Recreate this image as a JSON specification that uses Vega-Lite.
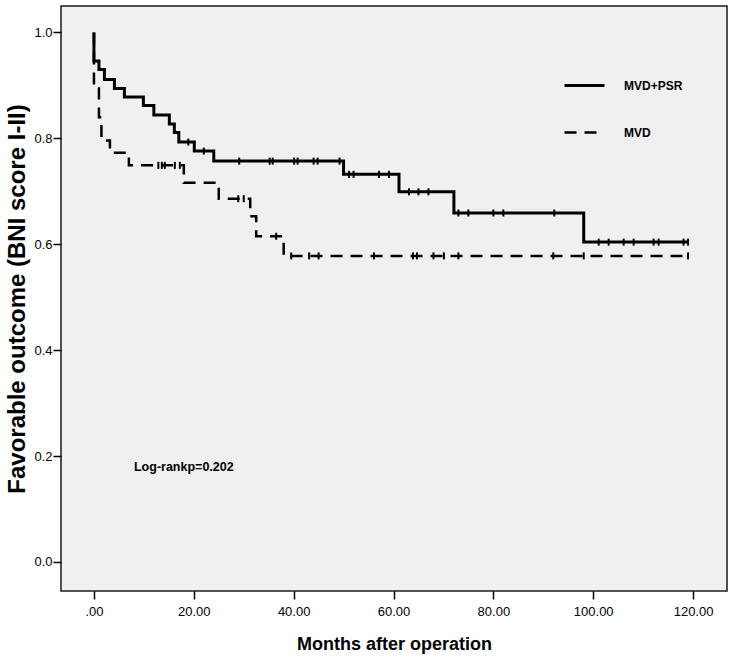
{
  "$schema": "https://vega.github.io/schema/vega-lite/v6.json",
  "width": 666,
  "height": 585,
  "autosize": {"type": "none"},
  "padding": {"left": 61, "top": 6, "right": 8, "bottom": 70},
  "background": "white",
  "config": {
    "view": {"fill": "#f0f0f0", "stroke": "#1a1a1a", "strokeWidth": 1.5},
    "font": "Liberation Sans",
    "axis": {"grid": false, "domain": false, "tickColor": "black", "tickWidth": 1.5, "tickSize": 8, "labelColor": "black", "titleColor": "black", "labelFont": "Liberation Sans", "titleFont": "Liberation Sans", "titleFontWeight": "bold"}
  },
  "datasets": {
    "curves": [
      {"group": "MVD+PSR", "t": 0, "s": 1.0},
      {"group": "MVD+PSR", "t": 0, "s": 0.946},
      {"group": "MVD+PSR", "t": 1.0, "s": 0.930},
      {"group": "MVD+PSR", "t": 2.1, "s": 0.911},
      {"group": "MVD+PSR", "t": 4.1, "s": 0.894},
      {"group": "MVD+PSR", "t": 6.1, "s": 0.878},
      {"group": "MVD+PSR", "t": 9.9, "s": 0.862},
      {"group": "MVD+PSR", "t": 12.0, "s": 0.844},
      {"group": "MVD+PSR", "t": 15.1, "s": 0.827},
      {"group": "MVD+PSR", "t": 16.1, "s": 0.811},
      {"group": "MVD+PSR", "t": 17.0, "s": 0.793},
      {"group": "MVD+PSR", "t": 20.1, "s": 0.776},
      {"group": "MVD+PSR", "t": 24.0, "s": 0.757},
      {"group": "MVD+PSR", "t": 50.0, "s": 0.732},
      {"group": "MVD+PSR", "t": 61.1, "s": 0.699},
      {"group": "MVD+PSR", "t": 72.1, "s": 0.659},
      {"group": "MVD+PSR", "t": 98.1, "s": 0.604},
      {"group": "MVD+PSR", "t": 119.0, "s": 0.604},
      {"group": "MVD", "t": 0, "s": 1.0},
      {"group": "MVD", "t": 0, "s": 0.894},
      {"group": "MVD", "t": 1.0, "s": 0.84},
      {"group": "MVD", "t": 1.5, "s": 0.796},
      {"group": "MVD", "t": 3.2, "s": 0.773},
      {"group": "MVD", "t": 7.0, "s": 0.749},
      {"group": "MVD", "t": 18.0, "s": 0.716},
      {"group": "MVD", "t": 25.0, "s": 0.686},
      {"group": "MVD", "t": 31.3, "s": 0.653},
      {"group": "MVD", "t": 32.5, "s": 0.615},
      {"group": "MVD", "t": 38.0, "s": 0.578},
      {"group": "MVD", "t": 119.0, "s": 0.578}
    ],
    "censors": [
      {"group": "MVD+PSR", "t": 18.9, "s": 0.793},
      {"group": "MVD+PSR", "t": 22.0, "s": 0.776},
      {"group": "MVD+PSR", "t": 29.1, "s": 0.757},
      {"group": "MVD+PSR", "t": 35.2, "s": 0.757},
      {"group": "MVD+PSR", "t": 35.8, "s": 0.757},
      {"group": "MVD+PSR", "t": 40.1, "s": 0.757},
      {"group": "MVD+PSR", "t": 40.8, "s": 0.757},
      {"group": "MVD+PSR", "t": 44.0, "s": 0.757},
      {"group": "MVD+PSR", "t": 44.8, "s": 0.757},
      {"group": "MVD+PSR", "t": 49.2, "s": 0.757},
      {"group": "MVD+PSR", "t": 51.1, "s": 0.732},
      {"group": "MVD+PSR", "t": 52.0, "s": 0.732},
      {"group": "MVD+PSR", "t": 57.1, "s": 0.732},
      {"group": "MVD+PSR", "t": 59.1, "s": 0.732},
      {"group": "MVD+PSR", "t": 63.1, "s": 0.699},
      {"group": "MVD+PSR", "t": 65.0, "s": 0.699},
      {"group": "MVD+PSR", "t": 67.0, "s": 0.699},
      {"group": "MVD+PSR", "t": 73.0, "s": 0.659},
      {"group": "MVD+PSR", "t": 75.0, "s": 0.659},
      {"group": "MVD+PSR", "t": 80.0, "s": 0.659},
      {"group": "MVD+PSR", "t": 82.0, "s": 0.659},
      {"group": "MVD+PSR", "t": 92.2, "s": 0.659},
      {"group": "MVD+PSR", "t": 101.1, "s": 0.604},
      {"group": "MVD+PSR", "t": 103.1, "s": 0.604},
      {"group": "MVD+PSR", "t": 106.1, "s": 0.604},
      {"group": "MVD+PSR", "t": 108.1, "s": 0.604},
      {"group": "MVD+PSR", "t": 112.1, "s": 0.604},
      {"group": "MVD+PSR", "t": 113.1, "s": 0.604},
      {"group": "MVD+PSR", "t": 118.1, "s": 0.604},
      {"group": "MVD+PSR", "t": 119.0, "s": 0.604},
      {"group": "MVD", "t": 12.9, "s": 0.749},
      {"group": "MVD", "t": 13.6, "s": 0.749},
      {"group": "MVD", "t": 14.2, "s": 0.749},
      {"group": "MVD", "t": 16.2, "s": 0.749},
      {"group": "MVD", "t": 17.2, "s": 0.749},
      {"group": "MVD", "t": 28.9, "s": 0.686},
      {"group": "MVD", "t": 30.0, "s": 0.686},
      {"group": "MVD", "t": 36.5, "s": 0.615},
      {"group": "MVD", "t": 39.5, "s": 0.578},
      {"group": "MVD", "t": 43.1, "s": 0.578},
      {"group": "MVD", "t": 45.0, "s": 0.578},
      {"group": "MVD", "t": 56.1, "s": 0.578},
      {"group": "MVD", "t": 63.9, "s": 0.578},
      {"group": "MVD", "t": 64.7, "s": 0.578},
      {"group": "MVD", "t": 68.0, "s": 0.578},
      {"group": "MVD", "t": 70.1, "s": 0.578},
      {"group": "MVD", "t": 73.0, "s": 0.578},
      {"group": "MVD", "t": 92.0, "s": 0.578},
      {"group": "MVD", "t": 98.1, "s": 0.578},
      {"group": "MVD", "t": 119.0, "s": 0.578}
    ],
    "notes": [
      {"t": 18.0, "s": 0.18, "note": "Log-rankp=0.202"}
    ]
  },
  "encoding": {
    "x": {
      "field": "t", "type": "quantitative",
      "scale": {"domain": [-6.6, 126.8], "nice": false, "zero": false},
      "axis": {
        "values": [0, 20, 40, 60, 80, 100, 120],
        "labelExpr": "datum.value == 0 ? '.00' : format(datum.value, '.2f')",
        "labelFontSize": 13, "labelPadding": 6,
        "title": "Months after operation",
        "titleFontSize": 18, "titlePadding": 17
      }
    },
    "y": {
      "field": "s", "type": "quantitative",
      "scale": {"domain": [-0.055, 1.05], "nice": false, "zero": false},
      "axis": {
        "values": [0, 0.2, 0.4, 0.6, 0.8, 1.0],
        "format": ".1f",
        "labelFontSize": 13, "labelPadding": 1,
        "title": "Favorable outcome (BNI score I-II)", "titleFontSize": 24, "titlePadding": 4
      }
    }
  },
  "layer": [
    {
      "data": {"name": "curves"},
      "mark": {"type": "line", "interpolate": "step-after", "color": "black", "strokeCap": "butt"},
      "encoding": {
        "strokeDash": {
          "field": "group", "type": "nominal",
          "scale": {"domain": ["MVD+PSR", "MVD"], "range": [[1, 0], [12, 8]]},
          "legend": {
            "orient": "none", "legendX": 502, "legendY": 58, "title": null,
            "symbolType": "stroke", "symbolSize": 1600, "symbolStrokeWidth": 3.5, "symbolStrokeColor": "black",
            "labelFontSize": 12, "labelFontWeight": "bold", "labelColor": "black", "labelOffset": 18,
            "rowPadding": 19
          }
        },
        "strokeWidth": {
          "field": "group", "type": "nominal",
          "scale": {"domain": ["MVD+PSR", "MVD"], "range": [3, 2.5]},
          "legend": null
        },
        "order": [{"field": "s", "sort": "descending"}, {"field": "t"}]
      }
    },
    {
      "data": {"name": "censors"},
      "mark": {"type": "point", "shape": "M0,-1L0,1", "filled": false, "stroke": "black", "strokeWidth": 2, "size": 49, "opacity": 1}
    },
    {
      "data": {"name": "notes"},
      "mark": {"type": "text", "fontWeight": "bold", "fontSize": 12.5, "color": "black", "font": "Liberation Sans"},
      "encoding": {
        "text": {"field": "note", "type": "nominal"}
      }
    }
  ]
}
